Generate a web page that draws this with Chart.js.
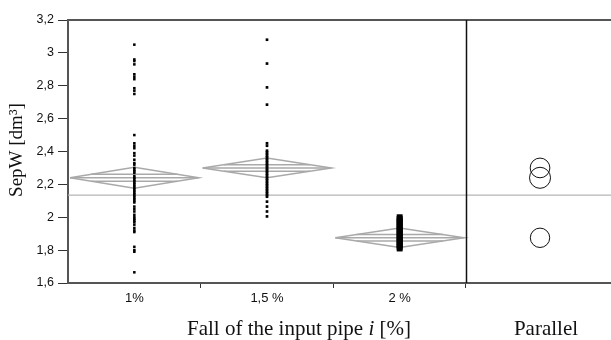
<!DOCTYPE html>
<html>
<head>
<meta charset="utf-8">
<script src="https://cdn.jsdelivr.net/npm/chart.js@4.4.1/dist/chart.umd.min.js"></script>
<style>
html,body{margin:0;padding:0;background:#fff;}
#wrap{width:611px;height:340px;position:relative;}
</style>
</head>
<body>
<div id="wrap"><canvas id="c" width="611" height="340"></canvas></div>
<script>
// ---- data ----
const categories = ['1%', '1,5 %', '2 %'];
const panelLabel = 'Parallel';
const yTicks = [1.6, 1.8, 2.0, 2.2, 2.4, 2.6, 2.8, 3.0, 3.2];

const sep1 = [3.05, 2.96, 2.95, 2.93, 2.87, 2.855, 2.84, 2.785, 2.77, 2.75, 2.50, 2.45, 2.435, 2.42,
  2.39, 2.375, 2.35, 2.33, 2.32, 2.30, 2.29, 2.28, 2.27, 2.25, 2.24, 2.23, 2.22, 2.21, 2.20, 2.19,
  2.18, 2.17, 2.16, 2.15, 2.14, 2.13, 2.12, 2.11, 2.10, 2.09, 2.065, 2.05, 2.035, 2.015, 2.00, 1.99,
  1.98, 1.97, 1.955, 1.935, 1.92, 1.91, 1.82, 1.80, 1.79, 1.665];
const sep15 = [3.08, 2.935, 2.79, 2.685, 2.45, 2.435, 2.405, 2.395, 2.385, 2.375, 2.365, 2.355, 2.345,
  2.335, 2.325, 2.315, 2.305, 2.295, 2.285, 2.275, 2.265, 2.255, 2.245, 2.235, 2.225, 2.215, 2.205,
  2.195, 2.185, 2.175, 2.165, 2.155, 2.145, 2.135, 2.125, 2.095, 2.065, 2.035, 2.005];
const sep2 = [2.00, 1.99, 1.98, 1.97, 1.96, 1.95, 1.94, 1.93, 1.92, 1.91, 1.90, 1.89, 1.88, 1.87,
  1.86, 1.85, 1.84, 1.83, 1.82, 1.81];

const groupMeans = [2.24, 2.30, 1.875];
const ciHalf = [0.064, 0.060, 0.059];
const grandMean = 2.135;

// ---- layout constants (not data) ----
const X_MAX = 4.093;       // main panel 0..3, comparison panel 3..X_MAX
const CIRCLE_X = 3.558;
const DIAMOND_HALF_W = 0.485;
const OVERLAP_FRAC = 0.33;

function pts(vals, x) { return vals.map(v => ({x: x, y: v})); }

function diamond(i) {
  const c = i + 0.5, m = groupMeans[i], h = ciHalf[i], w = DIAMOND_HALF_W;
  return [{x: c - w, y: m}, {x: c, y: m + h}, {x: c + w, y: m}, {x: c, y: m - h}, {x: c - w, y: m}];
}
function hline(i, off) {
  const c = i + 0.5, m = groupMeans[i], h = ciHalf[i];
  const w = DIAMOND_HALF_W * (1 - Math.abs(off));
  return [{x: c - w, y: m + off * h}, {x: c + w, y: m + off * h}];
}

const gray = '#a9a9a9';
const datasets = [];
datasets.push({type: 'scatter', data: pts(sep1, 0.5), pointStyle: 'rect', pointRadius: 1.8, backgroundColor: '#000', borderWidth: 0});
datasets.push({type: 'scatter', data: pts(sep15, 1.5), pointStyle: 'rect', pointRadius: 1.9, backgroundColor: '#000', borderWidth: 0});
datasets.push({type: 'scatter', data: pts(sep2, 2.5), pointStyle: 'rect', pointRadius: 4.2, backgroundColor: '#000', borderWidth: 0});
// comparison circles
datasets.push({type: 'scatter', data: groupMeans.map(m => ({x: CIRCLE_X, y: m})), pointStyle: 'circle',
  pointRadius: ctx => {
    const y = ctx.chart.scales.y; const i = ctx.dataIndex;
    if (!y || i === undefined) return 10;
    return Math.abs(y.getPixelForValue(groupMeans[i]) - y.getPixelForValue(groupMeans[i] + ciHalf[i]));
  },
  backgroundColor: 'rgba(0,0,0,0)', borderColor: '#111', borderWidth: 1});
for (let i = 0; i < 3; i++) {
  const common = {type: 'line', showLine: true, pointRadius: 0, borderColor: gray, borderWidth: 1.5, fill: false, tension: 0};
  datasets.push(Object.assign({data: diamond(i)}, common));
  datasets.push(Object.assign({data: hline(i, 0)}, common));
  datasets.push(Object.assign({data: hline(i, OVERLAP_FRAC)}, common));
  datasets.push(Object.assign({data: hline(i, -OVERLAP_FRAC)}, common));
}
datasets.push({type: 'line', data: [{x: 0, y: grandMean}, {x: X_MAX, y: grandMean}], showLine: true, pointRadius: 0,
  borderColor: '#b5b5b5', borderWidth: 1.2});

const frame = {
  id: 'frame',
  afterDatasetsDraw(chart) {
    const {ctx, chartArea: a, scales: {x}} = chart;
    ctx.save();
    ctx.strokeStyle = '#555'; ctx.lineWidth = 2;
    ctx.beginPath(); ctx.moveTo(a.left, a.top); ctx.lineTo(a.right, a.top); ctx.stroke();
    ctx.strokeStyle = '#111'; ctx.lineWidth = 1.5;
    const px = Math.round(x.getPixelForValue(3)) + 0.5;
    ctx.beginPath(); ctx.moveTo(px, a.top); ctx.lineTo(px, a.bottom); ctx.stroke();
    ctx.restore();
  },
  afterDraw(chart) {
    const {ctx} = chart;
    ctx.save();
    ctx.fillStyle = '#111';
    // y title
    ctx.translate(17, 150); ctx.rotate(-Math.PI / 2);
    ctx.font = '19px "Liberation Serif"'; ctx.textAlign = 'center'; ctx.textBaseline = 'middle';
    ctx.fillText('SepW [dm³]', 0, 0);
    ctx.restore();
    ctx.save();
    ctx.fillStyle = '#111'; ctx.textBaseline = 'alphabetic'; ctx.textAlign = 'left';
    const reg = '21px "Liberation Serif"', ita = 'italic 21px "Liberation Serif"';
    const parts = [['Fall of the input pipe ', reg], ['i', ita], [' [%]', reg]];
    let total = 0;
    parts.forEach(p => { ctx.font = p[1]; total += ctx.measureText(p[0]).width; });
    let xx = 299 - total / 2; const base = 335;
    parts.forEach(p => { ctx.font = p[1]; ctx.fillText(p[0], xx, base); xx += ctx.measureText(p[0]).width; });
    ctx.font = reg; ctx.textAlign = 'center';
    ctx.fillText(panelLabel, 546, base);
    ctx.restore();
  }
};

new Chart(document.getElementById('c'), {
  data: {datasets},
  options: {
    responsive: false, animation: false, devicePixelRatio: 1,
    layout: {autoPadding: false, padding: {top: 20, right: 0, left: 0, bottom: 0}},
    plugins: {legend: {display: false}, tooltip: {enabled: false}},
    scales: {
      x: {
        type: 'linear', min: 0, max: X_MAX,
        afterBuildTicks: s => { s.ticks = [0.5, 1, 1.5, 2, 2.5, 3].map(v => ({value: v})); },
        afterFit: s => { s.height = 57; s.paddingLeft = 0; s.paddingRight = 0; },
        ticks: {
          autoSkip: false, maxRotation: 0, minRotation: 0, padding: 3,
          color: '#111', font: {family: '"Liberation Sans", Arial', size: 13},
          callback: v => { const k = v - 0.5; return Number.isInteger(k) ? categories[k] : ''; }
        },
        grid: {drawOnChartArea: false, drawTicks: true, tickLength: 5,
          color: ctx => (ctx.tick && Number.isInteger(ctx.tick.value)) ? '#333' : 'rgba(0,0,0,0)'},
        border: {display: true, color: '#555', width: 2}
      },
      y: {
        type: 'linear', min: 1.6, max: 3.2,
        afterBuildTicks: s => { s.ticks = yTicks.map(v => ({value: v})); },
        afterFit: s => { s.width = 68; },
        ticks: {
          padding: 4, color: '#111', font: {family: '"Liberation Sans", Arial', size: 12.5},
          callback: v => String(Math.round(v * 10) / 10).replace('.', ',')
        },
        grid: {drawOnChartArea: false, drawTicks: true, tickLength: 10, color: '#333'},
        border: {display: true, color: '#555', width: 2}
      }
    }
  },
  plugins: [frame]
});
</script>
</body>
</html>
